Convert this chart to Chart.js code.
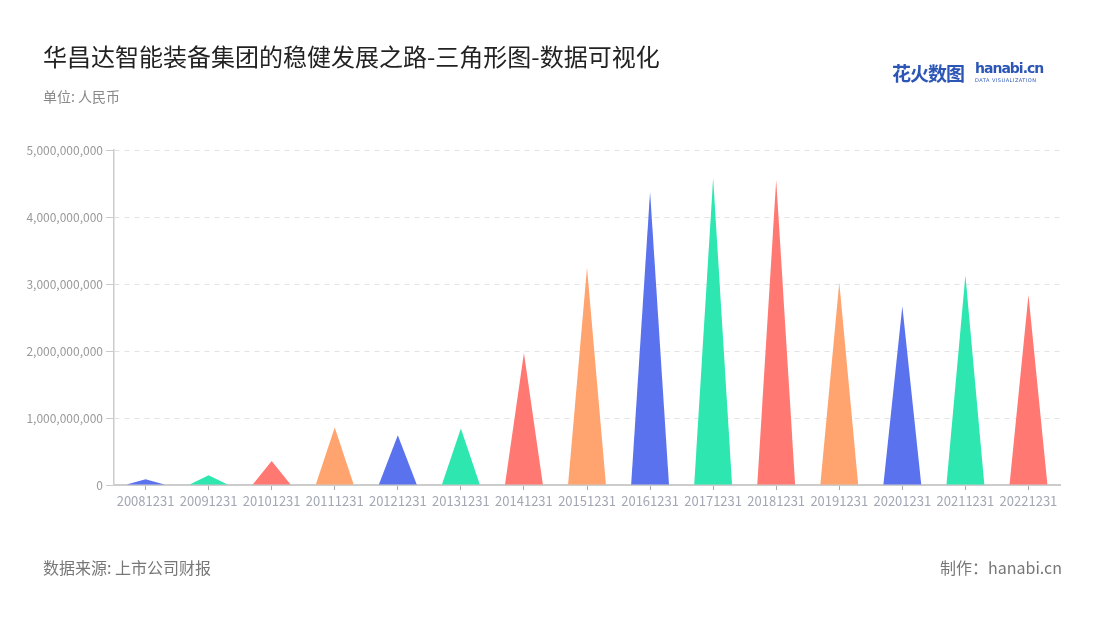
<!DOCTYPE html>
<html>
<head>
<meta charset="utf-8">
<script src="https://cdn.jsdelivr.net/npm/chart.js@4/dist/chart.umd.min.js"></script>
<style>
  html, body { margin: 0; padding: 0; background: #fff; }
  #wrap { position: relative; width: 1100px; height: 620px; font-family: "Noto Sans CJK SC", "Noto Sans", sans-serif; }
  #c { position: absolute; left: 0; top: 0; }
  .t { position: absolute; white-space: nowrap; }
  #title { left: 43px; top: 38px; font-size: 24px; color: #222; font-weight: 400; }
  #unit { left: 43px; top: 86px; font-size: 14px; color: #888; }
  #src { left: 43px; top: 555px; font-size: 16px; color: #777; }
  #made { right: 38px; top: 555px; font-size: 16px; color: #777; }
  #logo1 { left: 892px; top: 59px; font-size: 19px; font-weight: bold; color: #2c56b6; letter-spacing: -1px; }
  #logo2 { left: 975px; top: 60px; font-size: 14px; font-weight: bold; color: #2c56b6; font-family: "DejaVu Sans", sans-serif; letter-spacing: -1px; }
  #logo3 { left: 975px; top: 77px; font-size: 5px; color: #2c56b6; font-family: "DejaVu Sans", sans-serif; letter-spacing: 0.5px; }
</style>
</head>
<body>
<div id="wrap">
  <canvas id="c" width="1100" height="620"></canvas>
  <div class="t" id="title">华昌达智能装备集团的稳健发展之路-三角形图-数据可视化</div>
  <div class="t" id="unit">单位: 人民币</div>
  <div class="t" id="src">数据来源: 上市公司财报</div>
  <div class="t" id="made">制作：hanabi.cn</div>
  <div class="t" id="logo1">花火数图</div>
  <div class="t" id="logo2">hanabi.cn</div>
  <div class="t" id="logo3">DATA VISUALIZATION</div>
</div>
<script>
const categories = ["20081231","20091231","20101231","20111231","20121231","20131231","20141231","20151231","20161231","20171231","20181231","20191231","20201231","20211231","20221231"];
const values = [85000000, 144000000, 359000000, 857000000, 742000000, 842000000, 1972000000, 3242000000, 4377000000, 4577000000, 4552000000, 3018000000, 2669000000, 3132000000, 2834000000];
const palette = ["#5A72EE", "#2EE6B0", "#FF7872", "#FFA36F"];
const yTicks = [0, 1000000000, 2000000000, 3000000000, 4000000000, 5000000000];

const triangles = {
  id: 'triangles',
  beforeDatasetDraw(chart, args) {
    const meta = args.meta;
    const ctx = chart.ctx;
    ctx.save();
    meta.data.forEach((bar, i) => {
      const p = bar.getProps(['x', 'y', 'base', 'width'], true);
      const half = p.width / 2;
      ctx.beginPath();
      ctx.moveTo(p.x - half, p.base);
      ctx.lineTo(p.x, p.y);
      ctx.lineTo(p.x + half, p.base);
      ctx.closePath();
      ctx.fillStyle = palette[i % palette.length];
      ctx.fill();
    });
    ctx.restore();
    return false;
  }
};

new Chart(document.getElementById('c'), {
  type: 'bar',
  data: {
    labels: categories,
    datasets: [{ data: values, backgroundColor: categories.map((_, i) => palette[i % palette.length]), categoryPercentage: 1, barPercentage: 0.6 }]
  },
  options: {
    responsive: false,
    animation: false,
    layout: { padding: { top: 150, right: 40, bottom: 0, left: 0 } },
    plugins: { legend: { display: false }, tooltip: { enabled: false } },
    scales: {
      x: {
        offset: true,
        grid: { display: true, drawOnChartArea: false, drawTicks: true, tickLength: 5, offset: false, color: '#aaa' },
        border: { display: true, color: '#ccc', width: 2 },
        ticks: { color: '#a3a7b3', font: { size: 13, family: "Noto Sans CJK SC" }, padding: 3, maxRotation: 0, autoSkip: false },
        afterFit(scale) { scale.height = 135; }
      },
      y: {
        min: 0, max: 5000000000,
        afterBuildTicks(scale) { scale.ticks = yTicks.map(v => ({ value: v })); },
        grid: { color: '#e3e3e3', tickBorderDash: [], tickColor: '#ccc', tickLength: 8, drawTicks: true },
        border: { display: true, color: '#ccc', width: 1.5, dash: [5, 5] },
        ticks: { color: '#999', font: { size: 12, family: "Noto Sans CJK SC" }, padding: 3, callback: v => Number(v).toLocaleString('en-US') },
        afterFit(scale) { scale.width = 114; }
      }
    }
  },
  plugins: [triangles]
});
</script>
</body>
</html>
